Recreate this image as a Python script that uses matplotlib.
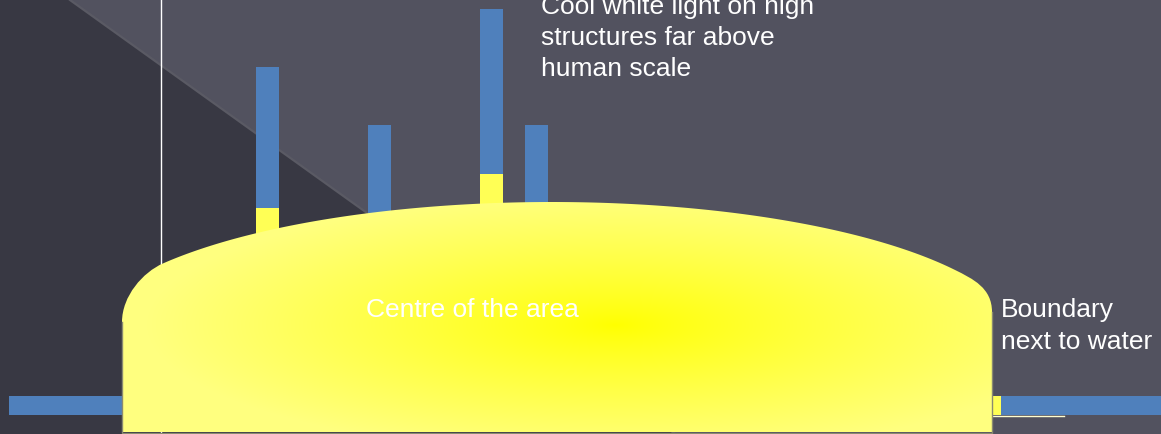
import numpy as np
import matplotlib
matplotlib.use("Agg")
import matplotlib.pyplot as plt
from matplotlib.path import Path
from matplotlib.patches import PathPatch, Polygon

# ---- data ----
tower_names = ["Tower A", "Tower B", "Tower C", "Tower D"]
tower_heights = [365, 307, 423, 307]      # height above ground
tower_lit = [224, 0, 258, 0]              # lit (warm) part from ground
labels = ["Cool white light on high", "structures far above", "human scale"]
boundary_labels = ["Boundary", "next to water"]
centre_label = "Centre of the area"

W, H = 1161, 434
GROUND = 432
BG_LIGHT = "#52525f"
BG_DARK = "#383843"
BLUE = "#4f80bc"
YEL = "#ffff55"

fig = plt.figure(figsize=(W / 100, H / 100), dpi=100)
fig.patch.set_facecolor(BG_LIGHT)
ax = fig.add_axes([0, 0, 1, 1])
ax.set_xlim(0, W)
ax.set_ylim(0, H)
ax.axis("off")
ax.set_facecolor(BG_LIGHT)

def py(y):
    return H - y

g0 = py(GROUND)

# dark diagonal region
x0, slope = 70, 0.717
xb = x0 + H / slope
ax.add_patch(Polygon([(0, py(0)), (x0, py(0)), (xb, py(H)), (0, py(H))],
                     closed=True, facecolor=BG_DARK, edgecolor="none", zorder=1))
ax.plot([x0, xb], [py(0), py(H)], color="#5a5a64", lw=1.6, zorder=1.5)

# vertical white line
ax.plot([161, 161], [0, H], color="white", lw=1.0, zorder=2)

# towers
tower_x = [256, 368, 480, 525]
bw = 23
for x, h, lit in zip(tower_x, tower_heights, tower_lit):
    ax.bar(x, h, width=bw, bottom=g0, align="edge", color=BLUE, zorder=3)
    if lit > 0:
        ax.bar(x, lit, width=bw, bottom=g0, align="edge", color=YEL, zorder=3.5)

# ground-level bars
ax.barh(py(405.5), 113, height=19, left=9, color=BLUE, zorder=3)
ax.barh(py(405.5), 10, height=19, left=991, color=YEL, zorder=3)
ax.barh(py(405.5), 160, height=19, left=1001, color=BLUE, zorder=3)
ax.plot([993, 1064], [py(415.5), py(415.5)], color="#ffffd0", lw=1.0, zorder=2.9)

# dome shape (pixel coords, y down)
cx, cy, a, b = 552, 342, 470, 140
def ell(x):
    return cy - b * np.sqrt(np.clip(1 - ((x - cx) / a) ** 2, 0, None))
xl, xr = 163, 955
xs = np.linspace(xl, xr, 200)
ys = ell(xs)
def slope_at(x):
    h = 0.5
    return (ell(x + h) - ell(x - h)) / (2 * h)
verts = [(122, 432), (122, 322)]
codes = [Path.MOVETO, Path.LINETO]
sl = slope_at(xl)
verts += [(122, 296), (xl - 20, ell(xl) - sl * 20), (xl, ell(xl))]
codes += [Path.CURVE4] * 3
for x, y in zip(xs[1:], ys[1:]):
    verts.append((x, y)); codes.append(Path.LINETO)
sr = slope_at(xr)
verts += [(xr + 18, ell(xr) + sr * 18), (992, 288), (992, 312)]
codes += [Path.CURVE4] * 3
verts += [(992, 432), (122, 432)]
codes += [Path.LINETO, Path.CLOSEPOLY]
verts = [(vx, py(vy)) for vx, vy in verts]
path = Path(verts, codes)
patch = PathPatch(path, facecolor="none", edgecolor="none", zorder=4)
ax.add_patch(patch)

# radial gradient clipped to dome
gx = np.arange(0, W) + 0.5
gy = np.arange(0, H) + 0.5
GX, GY = np.meshgrid(gx, gy)
r = np.sqrt(((GX - 615) / 470) ** 2 + ((GY - 325) / 130) ** 2)
t = np.clip(r, 0, 1) ** 0.85
c0 = np.array([1.0, 1.0, 0.0])
c1 = np.array([1.0, 1.0, 0.50])
img = c0[None, None, :] * (1 - t[..., None]) + c1[None, None, :] * t[..., None]
im = ax.imshow(img, extent=(0, W, 0, H), origin="upper", zorder=4.5,
               interpolation="bilinear", aspect="auto")
ax.set_xlim(0, W)
ax.set_ylim(0, H)
im.set_clip_path(patch)

# dome outline (sides and bottom)
ax.plot([122, 122, 992, 992], [py(322), py(432.5), py(432.5), py(312)],
        color="#8a8a70", lw=1.0, zorder=5)

# texts
fp = dict(family=["Liberation Sans", "DejaVu Sans"], fontsize=19, color="white")
for i, s in enumerate(labels):
    ax.text(541, py(14 + 31 * i), s, ha="left", va="baseline", zorder=6, **fp)
for i, s in enumerate(boundary_labels):
    ax.text(1001, py(317 + 32 * i), s, ha="left", va="baseline", zorder=6, **fp)
ax.text(366, py(317), centre_label, ha="left", va="baseline", zorder=6, **fp)

fig.savefig("out.png", dpi=100, facecolor=fig.get_facecolor())
